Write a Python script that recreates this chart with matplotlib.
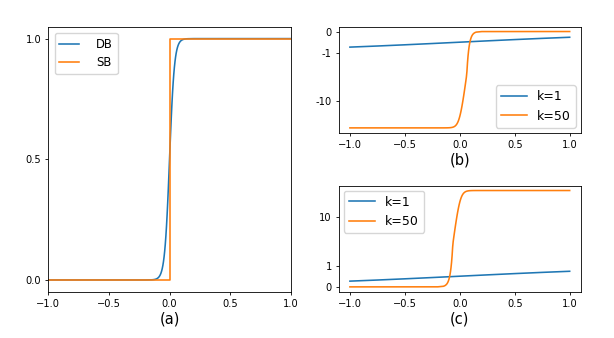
import matplotlib
matplotlib.use("Agg")
import matplotlib.pyplot as plt
from matplotlib.ticker import NullLocator, FixedLocator, FixedFormatter

# ---------------- data ----------------
# shared x positions for the steep (k=50) curves
x_k50 = [-1.0, -0.20, -0.15, -0.14, -0.13, -0.12, -0.115, -0.11, -0.105, -0.10,
         -0.095, -0.09, -0.085, -0.08, -0.075, -0.07, -0.065, -0.06, -0.055, -0.05,
         -0.045, -0.04, -0.035, -0.03, -0.025, -0.02, -0.015, -0.01, -0.005, 0.0,
         0.005, 0.01, 0.015, 0.02, 0.025, 0.03, 0.035, 0.04, 0.045, 0.05,
         0.055, 0.06, 0.065, 0.07, 0.075, 0.08, 0.085, 0.09, 0.095, 0.10,
         0.105, 0.11, 0.115, 0.12, 0.13, 0.14, 0.15, 0.20, 1.0]

# (a) DB (approximate binarization) and SB (standard step)
x_db = x_k50
y_db = [0.0, 0.00005, 0.00055, 0.00091, 0.0015, 0.00247, 0.00318, 0.00407, 0.00522, 0.00669,
        0.00858, 0.01099, 0.01406, 0.01799, 0.02298, 0.02931, 0.03733, 0.04743, 0.06009, 0.07586,
        0.09534, 0.1192, 0.14805, 0.18243, 0.2227, 0.26894, 0.32082, 0.37754, 0.43782, 0.5,
        0.56218, 0.62246, 0.67918, 0.73106, 0.7773, 0.81757, 0.85195, 0.8808, 0.90466, 0.92414,
        0.93991, 0.95257, 0.96267, 0.97069, 0.97702, 0.98201, 0.98594, 0.98901, 0.99142, 0.99331,
        0.99478, 0.99593, 0.99682, 0.99753, 0.9985, 0.99909, 0.99945, 0.99995, 1.0]
x_sb = [-1.0, 0.0, 0.0, 1.0]
y_sb = [0.0, 0.0, 1.0, 1.0]

# (b) and (c): k=1 curves
x_k1 = [-1.0, -0.75, -0.5, -0.25, 0.0, 0.25, 0.5, 0.75, 1.0]
yb_k1 = [-0.7311, -0.6792, -0.6225, -0.5622, -0.5, -0.4378, -0.3775, -0.3208, -0.2689]
yc_k1 = [0.2689, 0.3208, 0.3775, 0.4378, 0.5, 0.5622, 0.6225, 0.6792, 0.7311]

# (c): k=50 curve
yc_k50 = [0.0, 0.0023, 0.0275, 0.0456, 0.075, 0.1235, 0.159, 0.2035, 0.261, 0.3345,
          0.429, 0.5495, 0.703, 0.8995, 1.149, 1.4655, 1.8665, 2.3715, 3.0045, 3.793,
          4.767, 5.96, 7.4025, 9.1215, 11.135, 13.447, 16.041, 18.877, 21.891, 25.0,
          28.109, 31.123, 33.959, 36.553, 38.865, 40.8785, 42.5975, 44.04, 45.233, 46.207,
          46.9955, 47.6285, 48.1335, 48.5345, 48.851, 49.1005, 49.297, 49.4505, 49.571, 49.6655,
          49.739, 49.7965, 49.841, 49.8765, 49.925, 49.9544, 49.9725, 49.9977, 50.0]

# (b): k=50 curve
yb_k50 = [-50.0, -49.9977, -49.9725, -49.9544, -49.925, -49.8765, -49.841, -49.7965, -49.739, -49.6655,
          -49.571, -49.4505, -49.297, -49.1005, -48.851, -48.5345, -48.1335, -47.6285, -46.9955, -46.207,
          -45.233, -44.04, -42.5975, -40.8785, -38.865, -36.553, -33.959, -31.123, -28.109, -25.0,
          -21.891, -18.877, -16.041, -13.447, -11.135, -9.1215, -7.4025, -5.96, -4.767, -3.793,
          -3.0045, -2.3715, -1.8665, -1.4655, -1.149, -0.8995, -0.703, -0.5495, -0.429, -0.3345,
          -0.261, -0.2035, -0.159, -0.1235, -0.075, -0.0456, -0.0275, -0.0023, 0.0]

xticks = [-1.0, -0.5, 0.0, 0.5, 1.0]
a_yticks = [0.0, 0.5, 1.0]
b_yticks = [0, -1, -10]
b_yticklabels = ['0', '-1', '-10']
c_yticks = [0, 1, 10]
c_yticklabels = ['0', '1', '10']

# ---------------- figure ----------------
BLUE = '#1f77b4'
ORANGE = '#ff7f0e'
LW = 1.15
TICK_FS = 7.1

fig = plt.figure(figsize=(6.14, 3.38), dpi=100)
ax_a = fig.add_axes([0.0787, 0.136, 0.3948, 0.7855])
ax_b = fig.add_axes([0.552, 0.6074, 0.3937, 0.3136])
ax_c = fig.add_axes([0.552, 0.137, 0.3937, 0.3136])

for ax in (ax_a, ax_b, ax_c):
    for s in ax.spines.values():
        s.set_linewidth(0.6)
    ax.tick_params(labelsize=TICK_FS, length=2.5, width=0.6, pad=2.5)

# (a)
ax_a.plot(x_db, y_db, color=BLUE, lw=LW, label='DB')
ax_a.plot(x_sb, y_sb, color=ORANGE, lw=LW, label='SB')
ax_a.set_xlim(-1.0, 1.0)
ax_a.set_xticks(xticks)
ax_a.set_yticks(a_yticks)
ax_a.set_xlabel('(a)', fontsize=10.5, labelpad=2)
ax_a.legend(loc='upper left', fontsize=8.4, handlelength=1.7, handletextpad=1.45,
            framealpha=0.8, borderaxespad=0.55)

# (b)
ax_b.plot(x_k1, yb_k1, color=BLUE, lw=LW, label='k=1')
ax_b.plot(x_k50, yb_k50, color=ORANGE, lw=LW, label='k=50')
ax_b.set_yscale('symlog', linthresh=2)
ax_b.yaxis.set_major_locator(FixedLocator(b_yticks))
ax_b.yaxis.set_major_formatter(FixedFormatter(b_yticklabels))
ax_b.yaxis.set_minor_locator(NullLocator())
ax_b.set_xticks(xticks)
ax_b.set_xlabel('(b)', fontsize=10.5, labelpad=2)
ax_b.legend(loc='lower right', fontsize=9, handlelength=2.1, framealpha=0.8,
            borderaxespad=0.4)

# (c)
ax_c.plot(x_k1, yc_k1, color=BLUE, lw=LW, label='k=1')
ax_c.plot(x_k50, yc_k50, color=ORANGE, lw=LW, label='k=50')
ax_c.set_yscale('symlog', linthresh=2)
ax_c.yaxis.set_major_locator(FixedLocator(c_yticks))
ax_c.yaxis.set_major_formatter(FixedFormatter(c_yticklabels))
ax_c.yaxis.set_minor_locator(NullLocator())
ax_c.set_xticks(xticks)
ax_c.set_xlabel('(c)', fontsize=10.5, labelpad=2)
ax_c.legend(loc='upper left', fontsize=9, handlelength=2.1, framealpha=0.8,
            borderaxespad=0.4)

fig.savefig('out.png', dpi=100)
